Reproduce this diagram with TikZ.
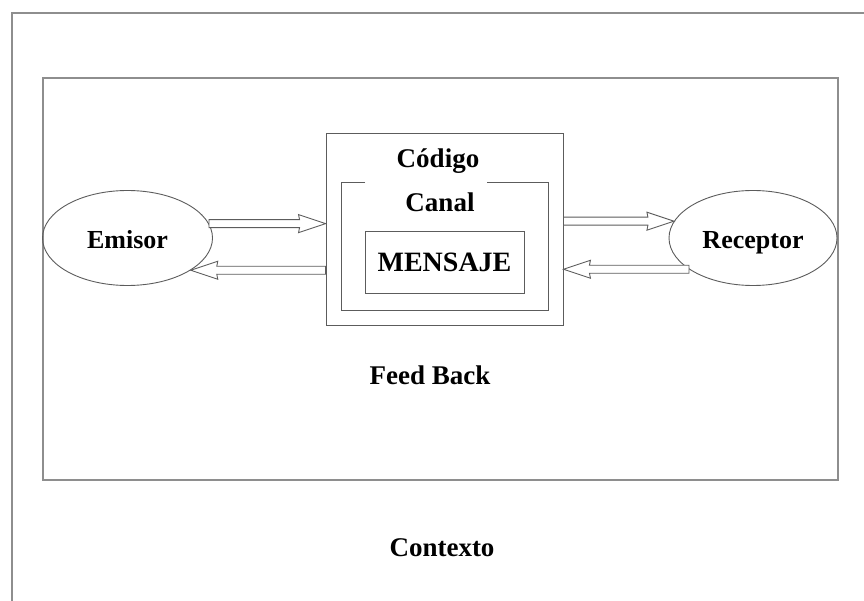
\documentclass[tikz,border=0pt]{standalone}
\usepackage{fontspec}
\setmainfont{Liberation Serif}
\usetikzlibrary{shapes,arrows.meta,positioning,calc}
\definecolor{framegray}{HTML}{8E8E8E}
\definecolor{linegray}{HTML}{5C5C5C}
\tikzstyle{frame} = [draw=framegray, line width=1.3pt]
\tikzstyle{box} = [rectangle, draw=linegray, line width=0.9pt, inner sep=0pt]
\tikzstyle{actor} = [ellipse, draw=linegray, line width=0.9pt, inner sep=0pt,
    minimum width=170pt, minimum height=95pt, text height=21pt, text depth=0pt,
    font=\bfseries\fontsize{26}{30}\selectfont]
\tikzstyle{lbl} = [font=\bfseries\fontsize{27}{31}\selectfont]
% flecha hueca: contorno de cuerpo y punta
\tikzstyle{hollow} = [draw=linegray, line width=0.9pt, fill=white, line join=miter,
    to path={let \p1=(\tikztostart), \p2=(\tikztotarget), \n1={sign(\x2-\x1)} in
      (\x1,\y1+4) -- (\x2-\n1*26,\y1+4) -- (\x2-\n1*27,\y1+9) -- (\x2,\y1)
      -- (\x2-\n1*27,\y1-9) -- (\x2-\n1*26,\y1-4) -- (\x1,\y1-4) -- cycle}]

\begin{document}
\begin{tikzpicture}[x=1pt, y=-1pt]
\useasboundingbox (0,0) rectangle (864,601);
\clip (0,0) rectangle (864,601);
% marcos de contexto y feed back
\draw[frame] (12,13) rectangle (880,620);
\draw[frame] (43,78) rectangle (838,480);

\node[box, minimum width=237pt, minimum height=192pt] (codigo) at (444.5,229) {};
\node[box, minimum width=159pt, minimum height=62pt, font=\bfseries\fontsize{28}{32}\selectfont] (mensaje) at (444.5,262) {MENSAJE};
\draw[draw=linegray, line width=0.9pt] (365,182) -| (341,310) -| (548,182) -- (487,182);
\node[lbl] (codigotxt) at (438,161) {Código};
\node[lbl] (canaltxt) at (440,202) {Canal};

\node[actor] (emisor) at (127.5,238) {Emisor};
\node[actor, minimum width=168pt] (receptor) at (753,238) {Receptor};

\node[lbl] (feedback) at (430,375) {Feed Back};
\node[lbl] (contexto) at (442,548) {Contexto};

\draw[hollow] (emisor.10) to (emisor.10 -| codigo.west);
\draw[hollow] (codigo.west |- emisor.-27) to (emisor.-27);
\draw[hollow] (codigo.east |- receptor.168) to (receptor.168);
\draw[hollow] (receptor.206) to (receptor.206 -| codigo.east);
\end{tikzpicture}
\end{document}
